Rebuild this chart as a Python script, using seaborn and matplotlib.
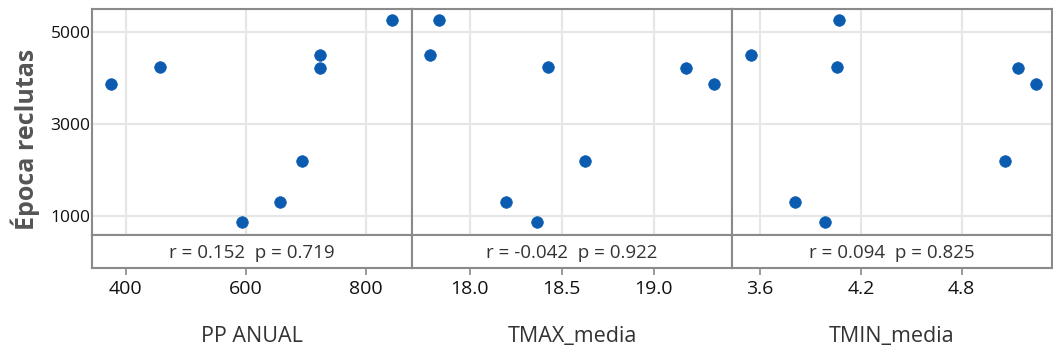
import matplotlib
matplotlib.use("Agg")
import matplotlib.pyplot as plt
import seaborn as sns
import pandas as pd

sns.set_theme(style="whitegrid")
plt.rcParams['font.family'] = ['Open Sans', 'DejaVu Sans']

# Datos
epoca = [5250, 4490, 4230, 4220, 3860, 2190, 1300, 870]
pp_anual = [844, 723, 457, 723, 376, 694, 657, 594]
tmax_media = [17.835, 17.783, 18.423, 19.177, 19.327, 18.628, 18.195, 18.368]
tmin_media = [4.069, 3.548, 4.057, 5.139, 5.245, 5.056, 3.810, 3.985]

variables = ['PP ANUAL', 'TMAX_media', 'TMIN_media']
r_vals = [0.152, -0.042, 0.094]
p_vals = [0.719, 0.922, 0.825]
x_ticks = [[400, 600, 800], [18.0, 18.5, 19.0], [3.6, 4.2, 4.8]]
x_tick_labels = [['400', '600', '800'], ['18.0', '18.5', '19.0'], ['3.6', '4.2', '4.8']]
x_lims = [(344, 877), (17.687, 19.425), (3.432, 5.339)]
y_ticks = [1000, 3000, 5000]

df = pd.DataFrame({'Época reclutas': epoca, 'PP ANUAL': pp_anual,
                   'TMAX_media': tmax_media, 'TMIN_media': tmin_media})

fig = plt.figure(figsize=(10.53, 3.53), dpi=100)
W, H = 1053, 353
borde = '#8a8a8a'
x0 = 92
ancho = 320

for i, var in enumerate(variables):
    left = (x0 + i * ancho) / W
    w = ancho / W
    ax = fig.add_axes([left, 1 - 235 / H, w, (235 - 9) / H])
    strip = fig.add_axes([left, 1 - 268 / H, w, 33 / H])

    sns.scatterplot(data=df, x=var, y='Época reclutas', ax=ax, color='#0b5cb0',
                    s=70, edgecolor='#0b5cb0', linewidth=0.5, legend=False)
    ax.set_xlim(x_lims[i])
    ax.set_ylim(590, 5490)
    ax.set_xticks(x_ticks[i])
    ax.set_yticks(y_ticks)
    ax.grid(True, color='#e6e6e6', linewidth=1.5)
    ax.tick_params(axis='x', length=0, labelbottom=False)
    ax.tick_params(axis='y', length=0, pad=1, labelsize=12.5, labelcolor='#111111')
    ax.set_xlabel('')
    ax.set_ylabel('')
    if i > 0:
        ax.tick_params(axis='y', labelleft=False)
    for sp in ax.spines.values():
        sp.set_color(borde)
        sp.set_linewidth(1.5)

    strip.set_xlim(x_lims[i])
    strip.set_ylim(0, 1)
    strip.set_xticks(x_ticks[i])
    strip.set_xticklabels(x_tick_labels[i])
    strip.set_yticks([])
    strip.grid(False)
    strip.set_facecolor('white')
    strip.tick_params(axis='x', bottom=True, length=5, width=1.2, color=borde,
                      direction='out', pad=4, labelsize=14, labelcolor='#111111')
    for sp in strip.spines.values():
        sp.set_color(borde)
        sp.set_linewidth(1.5)
    strip.text(0.5, 0.45, f'r = {r_vals[i]:.3f}  p = {p_vals[i]:.3f}',
               transform=strip.transAxes, ha='center', va='center',
               fontsize=13.5, color='#333333')
    strip.set_xlabel(var, fontsize=15.5, color='#333333', labelpad=20)

fig.text(25 / W, 1 - 139 / H, 'Época reclutas', rotation=90, ha='center', va='center',
         fontsize=18, fontweight='bold', color='#555555')

fig.savefig('out.png', dpi=100)
